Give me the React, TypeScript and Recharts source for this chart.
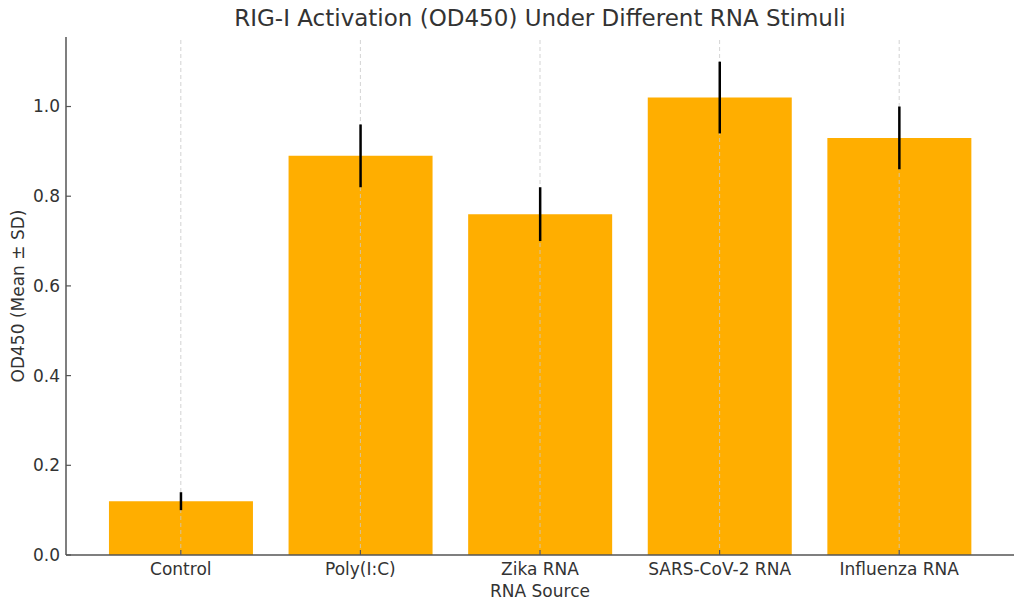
import { BarChart, Bar, XAxis, YAxis, ErrorBar, ReferenceLine, Label } from 'recharts'

const categories = ['Control', 'Poly(I:C)', 'Zika RNA', 'SARS-CoV-2 RNA', 'Influenza RNA']
const means = [0.12, 0.89, 0.76, 1.02, 0.93]
const sds = [0.02, 0.07, 0.06, 0.08, 0.07]
const yTicks = [0, 0.2, 0.4, 0.6, 0.8, 1.0]

const data = categories.map((name, i) => ({ name, mean: means[i], sd: sds[i] }))

const FONT = '"DejaVu Sans", sans-serif'
const TEXT = '#333333'
const AXIS = '#555555'
const FS = 17

// matplotlib-style ticks pointing into the plot
const YTick = (props: any) => {
    const { x, y, payload } = props
    return (
        <g>
            <line x1={x + 8} x2={x + 13} y1={y} y2={y} stroke={AXIS} strokeWidth={1.2} />
            <text x={x + 2} y={y} dy="0.35em" textAnchor="end" fontSize={FS} fill={TEXT} fontFamily={FONT}>
                {Number(payload.value).toFixed(1)}
            </text>
        </g>
    )
}

const XTick = (props: any) => {
    const { x, y, payload } = props
    return (
        <g>
            <line x1={x} x2={x} y1={y} y2={y - 5} stroke={AXIS} strokeWidth={1.2} />
            <text x={x} y={y + 20} textAnchor="middle" fontSize={FS} fill={TEXT} fontFamily={FONT}>
                {payload.value}
            </text>
        </g>
    )
}

export default function App() {
    return (
        <div style={{ position: 'absolute', left: 0, top: 0, width: 1024, height: 611, background: '#fff' }}>
            <div
                style={{
                    position: 'absolute', left: 66, width: 948, top: 5, textAlign: 'center',
                    fontFamily: FONT, fontSize: 23, color: TEXT,
                }}
            >
                RIG-I Activation (OD450) Under Different RNA Stimuli
            </div>
            <BarChart
                width={1024}
                height={611}
                data={data}
                margin={{ top: 37, right: 10, bottom: 0, left: 0 }}
                barCategoryGap="10%"
            >
                {categories.map((c) => (
                    <ReferenceLine key={c} x={c} stroke="#c8c8c8" strokeDasharray="4 3" strokeWidth={0.8} zIndex={350} />
                ))}
                <XAxis
                    dataKey="name"
                    padding={{ left: 25, right: 25 }}
                    axisLine={{ stroke: AXIS, strokeWidth: 1.5 }}
                    tickLine={false}
                    tickSize={0}
                    tickMargin={0}
                    tick={<XTick />}
                    height={56}
                    interval={0}
                >
                    <Label value="RNA Source" position="insideBottom" offset={14} fontSize={FS} fill={TEXT} fontFamily={FONT} />
                </XAxis>
                <YAxis
                    domain={[0, 1.155]}
                    ticks={yTicks}
                    axisLine={{ stroke: AXIS, strokeWidth: 1.5 }}
                    tickLine={false}
                    tickSize={0}
                    tickMargin={8}
                    tick={<YTick />}
                    width={66}
                    allowDataOverflow
                >
                    <Label
                        value="OD450 (Mean ± SD)"
                        angle={-90}
                        position="insideLeft"
                        offset={18}
                        style={{ textAnchor: 'middle' }}
                        fontSize={FS}
                        fill={TEXT}
                        fontFamily={FONT}
                    />
                </YAxis>
                <Bar dataKey="mean" fill="#FFAE00" isAnimationActive={false}>
                    <ErrorBar dataKey="sd" width={0} stroke="#000" strokeWidth={2.5} direction="y" zIndex={500} />
                </Bar>
            </BarChart>
        </div>
    )
}
